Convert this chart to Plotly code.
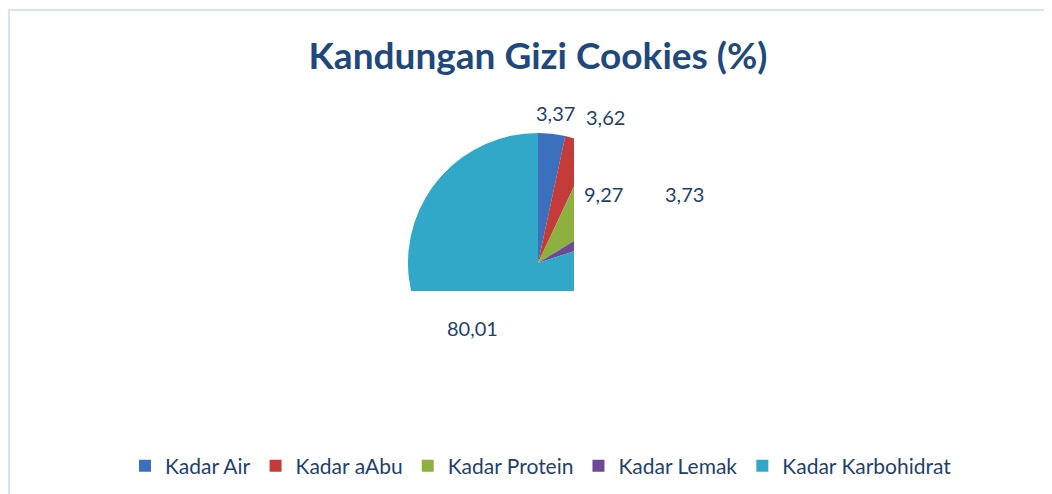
import plotly.graph_objects as go

categories = ["Kadar Air", "Kadar aAbu", "Kadar Protein", "Kadar Lemak", "Kadar Karbohidrat"]
values = [3.37, 3.62, 9.27, 3.73, 80.01]
colors = ["#3B70BE", "#C43C3A", "#8DB03E", "#6C4A97", "#31A8C8"]

W, H = 1052, 494
OFF = 8  # page body margin
cx, cy, r = 538, 263, 130


def px(x):
    return (x - OFF) / W


def py(y):
    return (H - (y - OFF)) / H


fig = go.Figure()
fig.add_trace(go.Pie(
    labels=categories, values=values, sort=False, direction="clockwise", rotation=0,
    marker=dict(colors=colors, line=dict(width=0)),
    textinfo="none", hoverinfo="label+value",
    domain=dict(x=[px(cx - r), px(cx + r)], y=[py(cy + r), py(cy - r)]),
))

# clipping of the rendered pie (white covers) and chart-area border
shapes = [
    dict(type="rect", xref="paper", yref="paper", x0=px(574), x1=px(700), y0=py(420), y1=py(120),
         fillcolor="white", line=dict(width=0), layer="above"),
    dict(type="rect", xref="paper", yref="paper", x0=px(390), x1=px(700), y0=py(420), y1=py(291),
         fillcolor="white", line=dict(width=0), layer="above"),
    dict(type="rect", xref="paper", yref="paper", x0=px(9), x1=px(1090), y0=py(530), y1=py(10),
         fillcolor="rgba(0,0,0,0)", line=dict(width=2, color="#D8E3F1"), layer="above"),
]

label_pos = [(555, 113), (605, 117), (603, 194), (684, 194), (472, 328)]
annotations = []
for v, (x, y) in zip(values, label_pos):
    annotations.append(dict(
        x=px(x), y=py(y), xref="paper", yref="paper", showarrow=False,
        text=f"{v:.2f}".replace(".", ","),
        font=dict(family="Lato", size=20, color="#1F3F6E"),
        xanchor="center", yanchor="middle",
    ))

fig.update_layout(
    width=W, height=H,
    margin=dict(l=0, r=0, t=0, b=0),
    paper_bgcolor="white", plot_bgcolor="white",
    title=dict(text="<b>Kandungan Gizi Cookies (%)</b>", x=px(538), xanchor="center",
               y=py(56), yanchor="middle",
               font=dict(family="Lato", size=37, color="#1F497D")),
    showlegend=True,
    legend=dict(orientation="h", x=px(541), xanchor="center", y=py(466), yanchor="middle",
                font=dict(family="Lato", size=21, color="#1F3F6E"),
                itemwidth=30, tracegroupgap=0),
    shapes=shapes,
    annotations=annotations,
)

fig.write_html("out.html")
